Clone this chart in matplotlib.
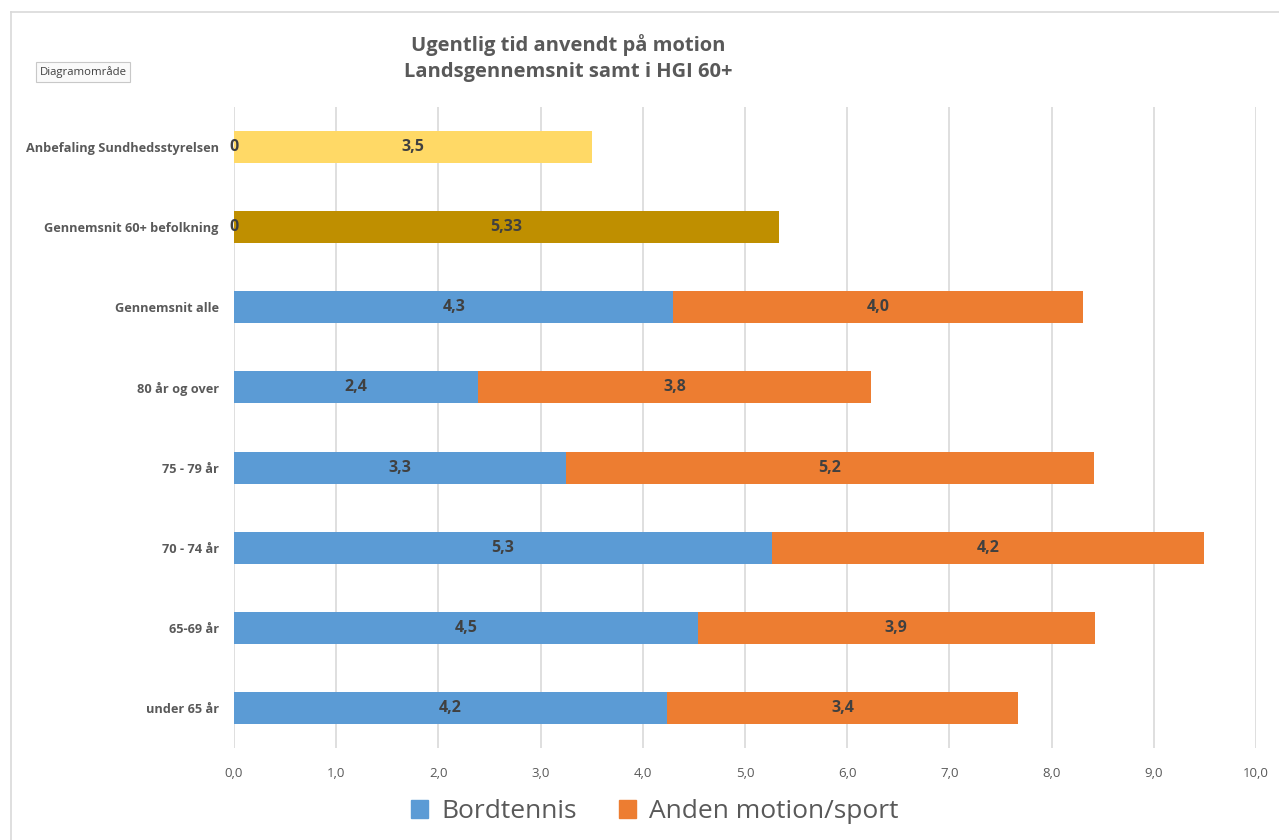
import matplotlib.pyplot as plt
from matplotlib.lines import Line2D
from matplotlib.patches import Patch

plt.rcParams['font.family'] = ['Open Sans', 'DejaVu Sans']

categories = ['Anbefaling Sundhedsstyrelsen', 'Gennemsnit 60+ befolkning', 'Gennemsnit alle',
              '80 år og over', '75 - 79 år', '70 - 74 år', '65-69 år', 'under 65 år']
bordtennis = [0, 0, 4.30, 2.39, 3.25, 5.26, 4.54, 4.24]
anden = [3.5, 5.33, 4.01, 3.84, 5.16, 4.23, 3.88, 3.43]
anden_labels = ['3,5', '5,33', '4,0', '3,8', '5,2', '4,2', '3,9', '3,4']
bordtennis_labels = ['0', '0', '4,3', '2,4', '3,3', '5,3', '4,5', '4,2']

BLUE = '#5B9BD5'
ORANGE = '#ED7D31'
anden_colors = ['#FFD966', '#BF8F00'] + [ORANGE] * 6
TEXT = '#595959'
LABEL = '#404040'

fig = plt.figure(figsize=(12.79, 8.4), dpi=100)
ax = fig.add_axes([234 / 1279, 1 - 748 / 840, (1256 - 234) / 1279, (748 - 107) / 840])

y = list(range(len(categories)))
ax.barh(y, bordtennis, height=0.4, color=BLUE, zorder=3)
ax.barh(y, anden, left=bordtennis, height=0.4, color=anden_colors, zorder=3)

for i in y:
    if bordtennis[i] > 0:
        ax.text(bordtennis[i] / 2, i, bordtennis_labels[i], ha='center', va='center',
                fontsize=11.5, fontweight='bold', color=LABEL, zorder=4)
    else:
        ax.text(0, i, bordtennis_labels[i], ha='center', va='center',
                fontsize=11.5, fontweight='bold', color=LABEL, zorder=4)
    ax.text(bordtennis[i] + anden[i] / 2, i, anden_labels[i], ha='center', va='center',
            fontsize=11.5, fontweight='bold', color=LABEL, zorder=4)

ax.set_xlim(0, 10)
ax.set_ylim(7.5, -0.5)
ax.set_xticks(range(11))
ax.set_xticklabels([f'{v},0' for v in range(11)], fontsize=9.5, color=TEXT)
ax.set_yticks(y)
ax.set_yticklabels(categories, fontsize=9.2, fontweight='bold', color=TEXT)
ax.tick_params(length=0, pad=14)
ax.tick_params(axis='y', pad=11)
ax.grid(axis='x', color='#D9D9D9', linewidth=1.2, zorder=0)
for s in ax.spines.values():
    s.set_visible(False)

fig.text(568 / 1279, 1 - 58 / 840, 'Ugentlig tid anvendt på motion\nLandsgennemsnit samt i HGI 60+',
         ha='center', va='center', fontsize=14.5, fontweight='bold', color=TEXT, linespacing=1.45)

fig.text(83 / 1279, 1 - 72 / 840, 'Diagramområde', ha='center', va='center', fontsize=8.2, color='#404040',
         bbox=dict(boxstyle='square,pad=0.35', facecolor='#FAFAFA', edgecolor='#C8C8C8', linewidth=0.8))

fig.add_artist(Line2D([11 / 1279, 1], [1 - 12 / 840, 1 - 12 / 840], color='#D9D9D9', linewidth=1.2,
                      transform=fig.transFigure))
fig.add_artist(Line2D([11 / 1279, 11 / 1279], [0, 1 - 12 / 840], color='#D9D9D9', linewidth=1.2,
                      transform=fig.transFigure))

handles = [Patch(color=BLUE, label='Bordtennis'), Patch(color=ORANGE, label='Anden motion/sport')]
fig.legend(handles=handles, loc='center', bbox_to_anchor=(655 / 1279, 1 - 812 / 840), ncol=2,
           frameon=False, fontsize=19, handlelength=0.65, handleheight=0.65, handletextpad=0.5,
           columnspacing=1.6, labelcolor=TEXT)

fig.savefig('out.png', dpi=100)
